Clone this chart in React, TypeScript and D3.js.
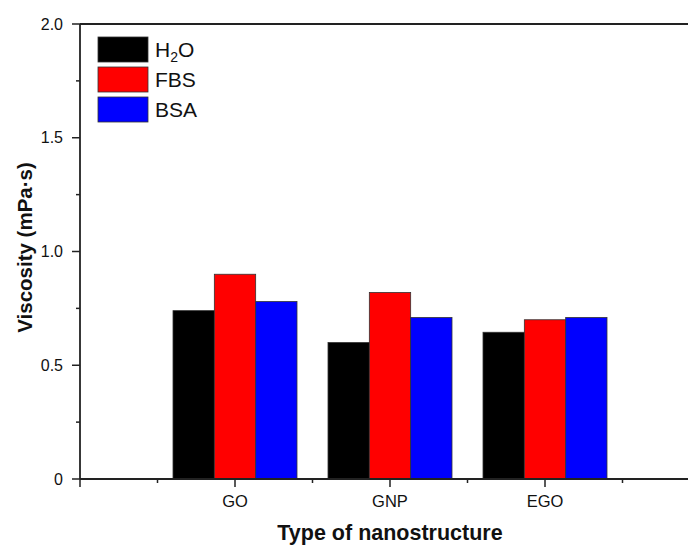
import { useEffect, useRef } from 'react'
import * as d3 from 'd3'

const categories = ['GO', 'GNP', 'EGO']
const seriesNames = ['H2O', 'FBS', 'BSA']
const seriesColors = ['#000000', '#ff0000', '#0000ff']
const h2oValues = [0.74, 0.6, 0.645]
const fbsValues = [0.9, 0.82, 0.7]
const bsaValues = [0.78, 0.71, 0.71]
const yMajorTicks = [0, 0.5, 1.0, 1.5, 2.0]
const yMinorTicks = [0.25, 0.75, 1.25, 1.75]
const xMajorTicks = [0, 1, 2, 3, 4]
const xMinorTicks = [0.5, 1.5, 2.5, 3.5]

function App() {
    const ref = useRef<SVGSVGElement>(null)

    useEffect(() => {
        const width = 688
        const height = 545
        const left = 80
        const top = 24
        const bottom = 479
        const right = 700
        const font = 'Arial, "Liberation Sans", sans-serif'
        const axisColor = '#222'

        const svg = d3.select(ref.current)
        svg.selectAll('*').remove()
        svg.attr('width', width).attr('height', height)

        const x = d3.scaleLinear().domain([0, 4]).range([left, right])
        const y = d3.scaleLinear().domain([0, 2]).range([bottom, top])

        const series = [h2oValues, fbsValues, bsaValues]
        const groupWidth = 0.8
        const barW = groupWidth / series.length

        // bars
        series.forEach((vals, si) => {
            svg.append('g')
                .selectAll('rect')
                .data(vals)
                .join('rect')
                .attr('x', (_, i) => x(i + 1 - groupWidth / 2 + si * barW))
                .attr('width', x(barW) - x(0))
                .attr('y', d => y(d))
                .attr('height', d => y(0) - y(d))
                .attr('fill', seriesColors[si])
                .attr('stroke', '#333')
                .attr('stroke-width', 0.8)
        })

        // frame (top + right) and axes
        svg.append('line')
            .attr('x1', left).attr('x2', right)
            .attr('y1', top).attr('y2', top)
            .attr('stroke', axisColor).attr('stroke-width', 1.8)
        svg.append('line')
            .attr('x1', right).attr('x2', right)
            .attr('y1', top).attr('y2', bottom)
            .attr('stroke', axisColor).attr('stroke-width', 1.8)
        svg.append('line')
            .attr('x1', left).attr('x2', left)
            .attr('y1', top).attr('y2', bottom)
            .attr('stroke', axisColor).attr('stroke-width', 1.8)
        svg.append('line')
            .attr('x1', left).attr('x2', right)
            .attr('y1', bottom).attr('y2', bottom)
            .attr('stroke', axisColor).attr('stroke-width', 1.8)

        // y ticks
        svg.append('g').selectAll('line')
            .data(yMajorTicks).join('line')
            .attr('x1', left - 8).attr('x2', left)
            .attr('y1', d => y(d)).attr('y2', d => y(d))
            .attr('stroke', axisColor).attr('stroke-width', 1.5)
        svg.append('g').selectAll('line')
            .data(yMinorTicks).join('line')
            .attr('x1', left - 4).attr('x2', left)
            .attr('y1', d => y(d)).attr('y2', d => y(d))
            .attr('stroke', axisColor).attr('stroke-width', 1.5)
        svg.append('g').selectAll('text')
            .data(yMajorTicks).join('text')
            .attr('x', left - 17)
            .attr('y', d => y(d))
            .attr('dy', '0.35em')
            .attr('text-anchor', 'end')
            .attr('font-family', font)
            .attr('font-size', 16)
            .attr('fill', '#111')
            .text(d => (d === 0 ? '0' : d.toFixed(1)))

        // x ticks
        svg.append('g').selectAll('line')
            .data(xMajorTicks).join('line')
            .attr('x1', d => x(d)).attr('x2', d => x(d))
            .attr('y1', bottom).attr('y2', bottom + 8)
            .attr('stroke', axisColor).attr('stroke-width', 1.5)
        svg.append('g').selectAll('line')
            .data(xMinorTicks).join('line')
            .attr('x1', d => x(d)).attr('x2', d => x(d))
            .attr('y1', bottom).attr('y2', bottom + 4)
            .attr('stroke', axisColor).attr('stroke-width', 1.5)
        svg.append('g').selectAll('text')
            .data(categories).join('text')
            .attr('x', (_, i) => x(i + 1))
            .attr('y', 507)
            .attr('text-anchor', 'middle')
            .attr('font-family', font)
            .attr('font-size', 16.5)
            .attr('fill', '#111')
            .text(d => d)

        // axis titles
        svg.append('text')
            .attr('x', x(2))
            .attr('y', 540)
            .attr('text-anchor', 'middle')
            .attr('font-family', font)
            .attr('font-weight', 'bold')
            .attr('font-size', 21.5)
            .attr('fill', '#111')
            .text('Type of nanostructure')
        svg.append('text')
            .attr('transform', `translate(32, ${(top + bottom) / 2 - 4}) rotate(-90)`)
            .attr('text-anchor', 'middle')
            .attr('font-family', font)
            .attr('font-weight', 'bold')
            .attr('font-size', 20.5)
            .attr('fill', '#111')
            .text('Viscosity (mPa·s)')

        // legend
        const legend = svg.append('g').attr('transform', 'translate(98, 37)')
        seriesNames.forEach((name, i) => {
            const row = legend.append('g').attr('transform', `translate(0, ${i * 30})`)
            row.append('rect')
                .attr('width', 50).attr('height', 25)
                .attr('fill', seriesColors[i])
                .attr('stroke', '#333').attr('stroke-width', 0.8)
            const t = row.append('text')
                .attr('x', 57).attr('y', 20)
                .attr('font-family', font)
                .attr('font-size', 21)
                .attr('fill', '#111')
            if (name === 'H2O') {
                t.append('tspan').text('H')
                t.append('tspan').attr('font-size', 14).attr('dy', 5).text('2')
                t.append('tspan').attr('dy', -5).text('O')
            } else {
                t.text(name)
            }
        })
    })

    return (
        <svg
            ref={ref}
            width={688}
            height={545}
            style={{ position: 'absolute', left: 0, top: 0, background: '#fff' }}
        />
    )
}

export default App
